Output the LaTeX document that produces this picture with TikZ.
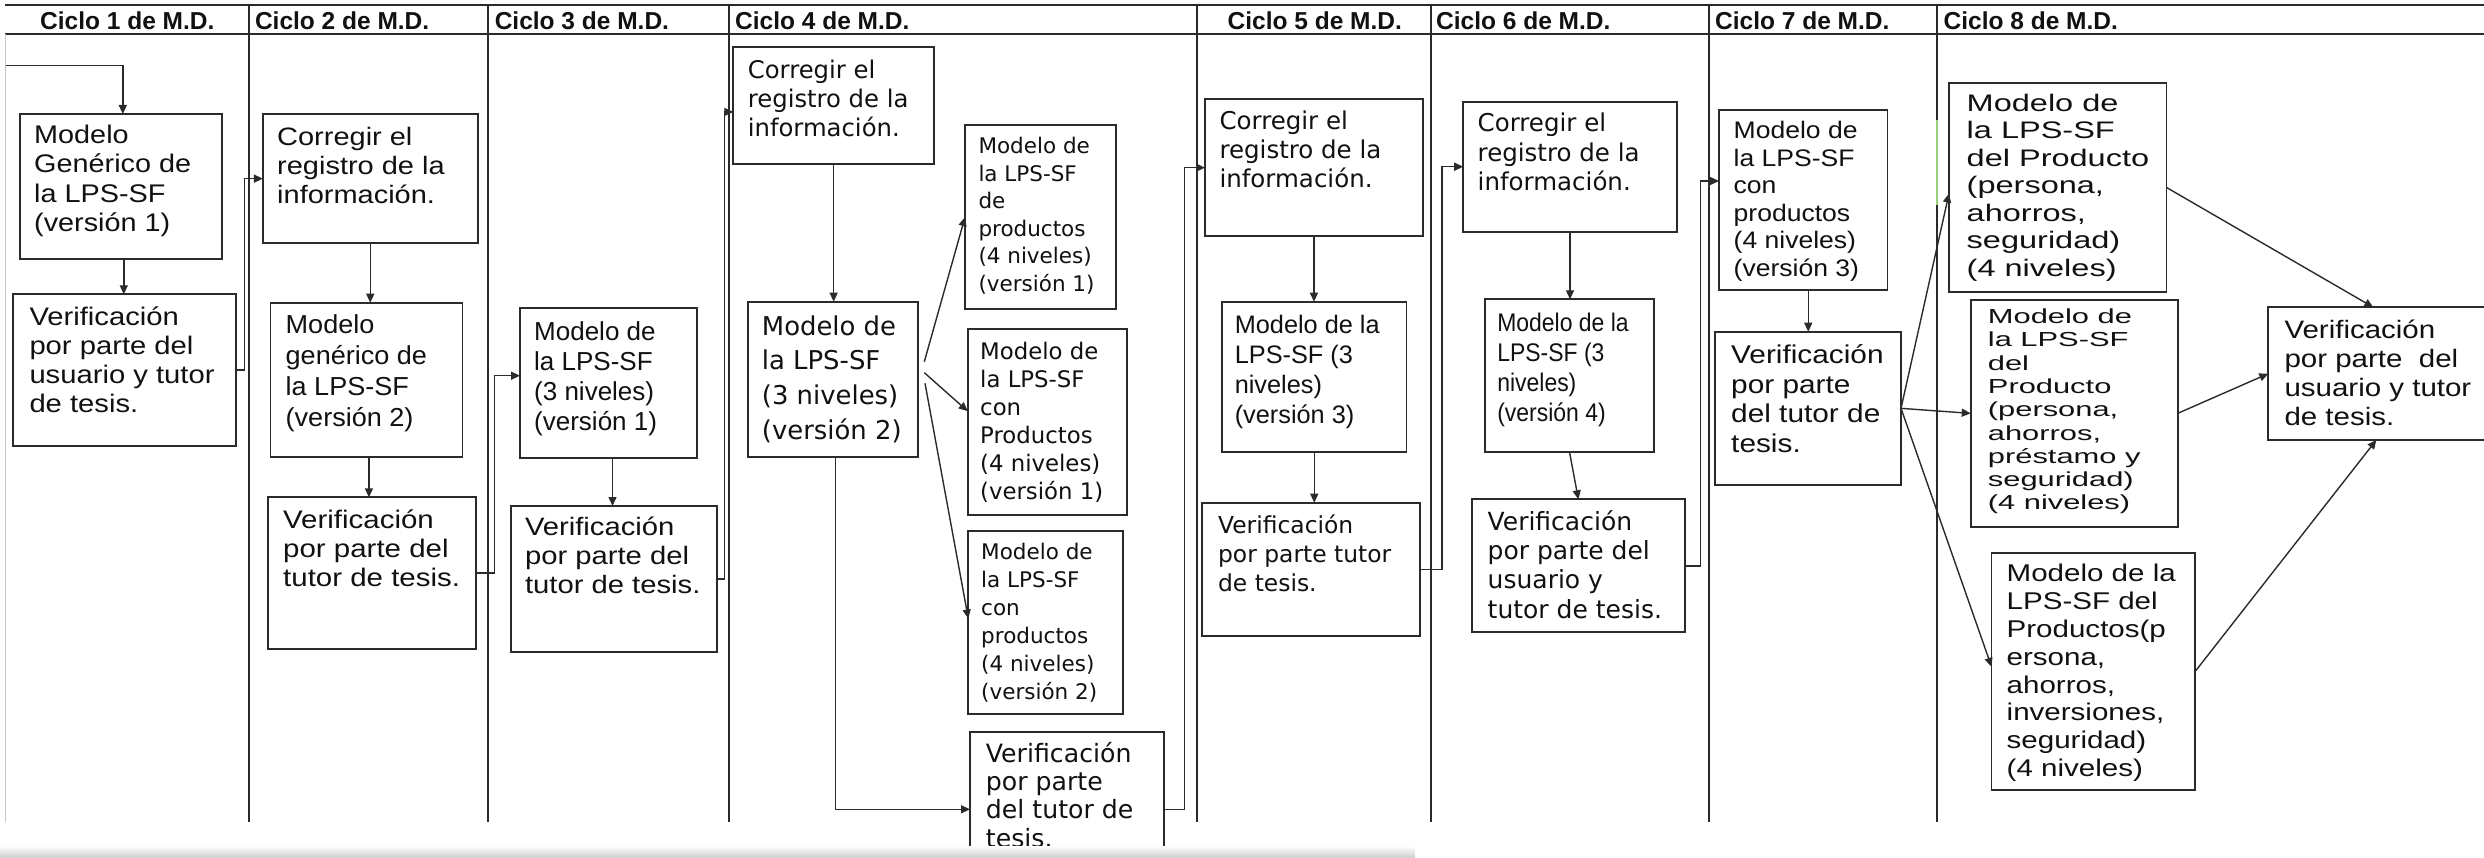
\documentclass[tikz,border=0pt]{standalone}
\usepackage{fontspec}
\usepackage{graphicx}
\usetikzlibrary{arrows.meta}
\newfontfamily\fA{Liberation Sans}
\newfontfamily\fD{DejaVu Sans}
\newcommand{\boxtxt}[4]{\fontsize{#2}{#3}\selectfont\scalebox{#1}[1]{\begin{tabular}{@{}l@{}}#4\end{tabular}}}
\definecolor{ln}{HTML}{2B2B2B}
\definecolor{tc}{HTML}{111111}
\begin{document}
\begin{tikzpicture}[x=1pt,y=-1pt,
 box/.style={draw=ln, line width=1.8pt, inner sep=0pt, outer sep=0pt, anchor=north west, fill=white},
 tA/.style={inner sep=0pt, anchor=north west, font=\fA, text=tc},
 tD/.style={inner sep=0pt, anchor=north west, font=\fD, text=tc},
 hd/.style={inner sep=0pt, anchor=base west, font=\fA\bfseries\fontsize{24.5}{28}\selectfont, text=tc},
 conn/.style={draw=ln, line width=1.4pt, -{Triangle[length=9pt,width=8pt]}},
 gridln/.style={draw=ln, line width=2pt}]
\fill[white] (0,0) rectangle (2484,858);
\useasboundingbox (0,0) rectangle (2484,858);
% table
\draw[gridln] (5,5) -- (2484,5);
\draw[gridln] (5,34.3) -- (2484,34.3);
\draw[draw=gray!45, line width=1.5pt] (5.7,34.3) -- (5.7,821.7);
\foreach \xx in {248.7,488.4,729,1197.3,1431,1708.6,1937}
  \draw[gridln] (\xx,5) -- (\xx,821.7);
\draw[draw={rgb,255:red,150;green,210;blue,120}, line width=1.6pt] (1937,120) -- (1937,205);
% headers
\node[hd] (h1) at (40,29.5) {Ciclo 1 de M.D.};
\node[hd] (h2) at (254.8,29.5) {Ciclo 2 de M.D.};
\node[hd] (h3) at (494.6,29.5) {Ciclo 3 de M.D.};
\node[hd] (h4) at (735,29.5) {Ciclo 4 de M.D.};
\node[hd] (h5) at (1227.5,29.5) {Ciclo 5 de M.D.};
\node[hd] (h6) at (1436,29.5) {Ciclo 6 de M.D.};
\node[hd] (h7) at (1715,29.5) {Ciclo 7 de M.D.};
\node[hd] (h8) at (1943.5,29.5) {Ciclo 8 de M.D.};
% boxes
\node[box, minimum width=202pt, minimum height=144.7pt] (B1) at (19.8,114) {};
\node[box, minimum width=222.8pt, minimum height=151.7pt] (B2) at (13.2,294.3) {};
\node[box, minimum width=214.7pt, minimum height=129.3pt] (C2a) at (262.9,114) {};
\node[box, minimum width=192.1pt, minimum height=154pt] (C2b) at (270.4,302.7) {};
\node[box, minimum width=208.6pt, minimum height=151.4pt] (C2c) at (267.6,497.3) {};
\node[box, minimum width=177pt, minimum height=150pt] (C3a) at (520,308.3) {};
\node[box, minimum width=206.7pt, minimum height=146pt] (C3b) at (510.6,506) {};
\node[box, minimum width=200.7pt, minimum height=116.7pt] (C4a) at (733.3,47.3) {};
\node[box, minimum width=170pt, minimum height=155pt] (C4b) at (747.7,301.7) {};
\node[box, minimum width=151pt, minimum height=184.3pt] (C4c) at (965,125) {};
\node[box, minimum width=159.6pt, minimum height=185.7pt] (C4d) at (967.7,329.3) {};
\node[box, minimum width=154.4pt, minimum height=183.6pt] (C4e) at (968.3,530.7) {};
\node[box, minimum width=194.3pt, minimum height=155.2pt] (C4f) at (970,731.7) {};
\node[box, minimum width=217.9pt, minimum height=136.7pt] (C5a) at (1205,99.3) {};
\node[box, minimum width=184.3pt, minimum height=150pt] (C5b) at (1222.1,301.7) {};
\node[box, minimum width=217.8pt, minimum height=133.3pt] (C5c) at (1201.8,502.7) {};
\node[box, minimum width=213.6pt, minimum height=130pt] (C6a) at (1463.2,101.7) {};
\node[box, minimum width=169.7pt, minimum height=152.4pt] (C6b) at (1484.6,299.3) {};
\node[box, minimum width=212.5pt, minimum height=133pt] (C6c) at (1472.1,499.3) {};
\node[box, minimum width=168.5pt, minimum height=180pt] (C7a) at (1719,110) {};
\node[box, minimum width=186pt, minimum height=153.3pt] (C7b) at (1715,331.7) {};
\node[box, minimum width=217.5pt, minimum height=209.6pt] (C8a) at (1949,82.7) {};
\node[box, minimum width=207pt, minimum height=226.7pt] (C8b) at (1970.7,300) {};
\node[box, minimum width=203.5pt, minimum height=236.7pt] (C8c) at (1991.5,553.3) {};
\node[box, minimum width=231.7pt, minimum height=132.7pt] (C8d) at (2268.3,307.3) {};
% texts
\node[tA] (B1t) at (34,122.8) {\boxtxt{1.13}{25.5}{29.3}{Modelo\\Genérico de\\la LPS-SF\\(versión 1)}};
\node[tA] (B2t) at (29.3,304.6) {\boxtxt{1.15}{25.4}{29.2}{Verificación\\por parte del\\usuario y tutor\\de tesis.}};
\node[tA] (C2at) at (277,124.7) {\boxtxt{1.15}{25.2}{29}{Corregir el\\registro de la\\información.}};
\node[tA] (C2bt) at (285.5,311.6) {\boxtxt{1.04}{26}{31}{Modelo\\genérico de\\la LPS-SF\\(versión 2)}};
\node[tA] (C2ct) at (283,507.9) {\boxtxt{1.16}{25.4}{29.2}{Verificación\\por parte del\\tutor de tesis.}};
\node[tA] (C3at) at (534,319) {\boxtxt{1.0}{26}{30}{Modelo de\\la LPS-SF\\(3 niveles)\\(versión 1)}};
\node[tA] (C3bt) at (524.8,514.7) {\boxtxt{1.16}{25.2}{29}{Verificación\\por parte del\\tutor de tesis.}};
\node[tD] (C4at) at (747.7,57.9) {\boxtxt{1}{24.3}{29.2}{Corregir el\\registro de la\\información.}};
\node[tD] (C4bt) at (761.7,310.7) {\boxtxt{1}{25.9}{34.7}{Modelo de\\la LPS-SF\\(3 niveles)\\(versión 2)}};
\node[tD] (C4ct) at (978.3,134.1) {\boxtxt{1}{21.5}{27.5}{Modelo de\\la LPS-SF\\de\\productos\\(4 niveles)\\(versión 1)}};
\node[tD] (C4dt) at (980,339.6) {\boxtxt{1}{22.8}{28.1}{Modelo de\\la LPS-SF\\con\\Productos\\(4 niveles)\\(versión 1)}};
\node[tD] (C4et) at (981,539.7) {\boxtxt{1}{21.5}{28}{Modelo de\\la LPS-SF\\con\\productos\\(4 niveles)\\(versión 2)}};
\node[tD] (C4ft) at (985.7,741.8) {\boxtxt{1}{25.2}{28.4}{Verificación\\por parte\\del tutor de\\tesis.}};
\node[tD] (C5at) at (1219.3,109) {\boxtxt{1}{24.5}{29}{Corregir el\\registro de la\\información.}};
\node[tA] (C5bt) at (1234.6,312.3) {\boxtxt{1}{25.3}{30}{Modelo de la\\LPS-SF (3\\niveles)\\(versión 3)}};
\node[tD] (C5ct) at (1217.9,512.9) {\boxtxt{1}{23.4}{29.2}{Verificación\\por parte tutor\\de tesis.}};
\node[tD] (C6at) at (1477.5,111.3) {\boxtxt{1}{24.5}{29.2}{Corregir el\\registro de la\\información.}};
\node[tA] (C6bt) at (1497.1,310.7) {\boxtxt{0.9}{25.5}{30}{Modelo de la\\LPS-SF (3\\niveles)\\(versión 4)}};
\node[tD] (C6ct) at (1487.5,509.4) {\boxtxt{1}{25}{29.4}{Verificación\\por parte del\\usuario y\\tutor de tesis.}};
\node[tA] (C7at) at (1733.5,119.1) {\boxtxt{1.11}{23.9}{27.5}{Modelo de\\la LPS-SF\\con\\productos\\(4 niveles)\\(versión 3)}};
\node[tA] (C7bt) at (1731,342.7) {\boxtxt{1.16}{25.7}{29.5}{Verificación\\por parte\\del tutor de\\tesis.}};
\node[tA] (C8at) at (1966.5,91.8) {\boxtxt{1.36}{23.9}{27.5}{Modelo de\\la LPS-SF\\del Producto\\(persona,\\ahorros,\\seguridad)\\(4 niveles)}};
\node[tA] (C8bt) at (1987.7,307) {\boxtxt{1.52}{20.3}{23.3}{Modelo de\\la LPS-SF\\del\\Producto\\(persona,\\ahorros,\\préstamo y\\seguridad)\\(4 niveles)}};
\node[tA] (C8ct) at (2006.5,562.2) {\boxtxt{1.22}{24.2}{27.8}{Modelo de la\\LPS-SF del\\Productos(p\\ersona,\\ahorros,\\inversiones,\\seguridad)\\(4 niveles)}};
\node[tA] (C8dt) at (2284.3,317.9) {\boxtxt{1.17}{25.2}{29.1}{Verificación\\por parte~~del\\usuario y tutor\\de tesis.}};
% connectors
\coordinate (e0) at (5.7,65.3);
\draw[conn] (e0) -| ([xshift=2pt]B1.north);
\draw[conn] ([xshift=3pt]B1.south) -- ([xshift=3pt]B1.south |- B2.north);
\draw[conn] (B2.east) -- ++(8.5,0) |- (C2a.west);
\draw[conn] (C2a.south) -- (C2a.south |- C2b.north);
\draw[conn] ([xshift=2.5pt]C2b.south) -- ([xshift=2.5pt]C2b.south |- C2c.north);
\draw[conn] (C2c.east) -- ++(18.4,0) |- ([yshift=7.6pt]C3a.west);
\draw[conn] ([xshift=4pt]C3a.south) -- ([xshift=4pt]C3a.south |- C3b.north);
\draw[conn] (C3b.east) -- ++(7,0) |- ([yshift=-6.3pt]C4a.west);
\draw[conn] (C4a.south) -- (C4a.south |- C4b.north);
\draw[conn] ([xshift=6.6pt,yshift=17.5pt]C4b.east) -- (C4c.west);
\draw[conn] ([xshift=6.6pt,yshift=6.5pt]C4b.east) -- ([yshift=11pt]C4d.west);
\draw[conn] ([xshift=7.3pt,yshift=-4.1pt]C4b.east) -- ([yshift=4pt]C4e.west);
\draw[conn] ([xshift=3pt]C4b.south) |- (C4f.west);
\draw[conn] (C4f.east) -- ++(20,0) |- (C5a.west);
\draw[conn] (C5a.south) -- (C5a.south |- C5b.north);
\draw[conn] (C5b.south) -- (C5b.south |- C5c.north);
\draw[conn] (C5c.east) -- ++(22.2,0) |- (C6a.west);
\draw[conn] (C6a.south) -- (C6a.south |- C6b.north);
\draw[conn] (C6b.south) -- (C6c.north);
\draw[conn] (C6c.east) -- ++(16.1,0) |- ([yshift=19pt]C7a.west);
\draw[conn] ([xshift=5pt]C7a.south) -- ([xshift=5pt]C7a.south |- C7b.north);
\draw[conn] (C7b.east) -- ([yshift=-6pt]C8a.west);
\draw[conn] (C7b.east) -- (C8b.west);
\draw[conn] (C7b.east) -- ([yshift=5pt]C8c.west);
\draw[conn] (C8a.east) -- ([xshift=105pt]C8d.north west);
\draw[conn] (C8b.east) -- (C8d.west);
\draw[conn] (C8c.east) -- ([xshift=108pt]C8d.south west);
% bottom page-edge shading
\shade[top color=white, bottom color=gray!40] (0,846) rectangle (1415,858);
\end{tikzpicture}
\end{document}
